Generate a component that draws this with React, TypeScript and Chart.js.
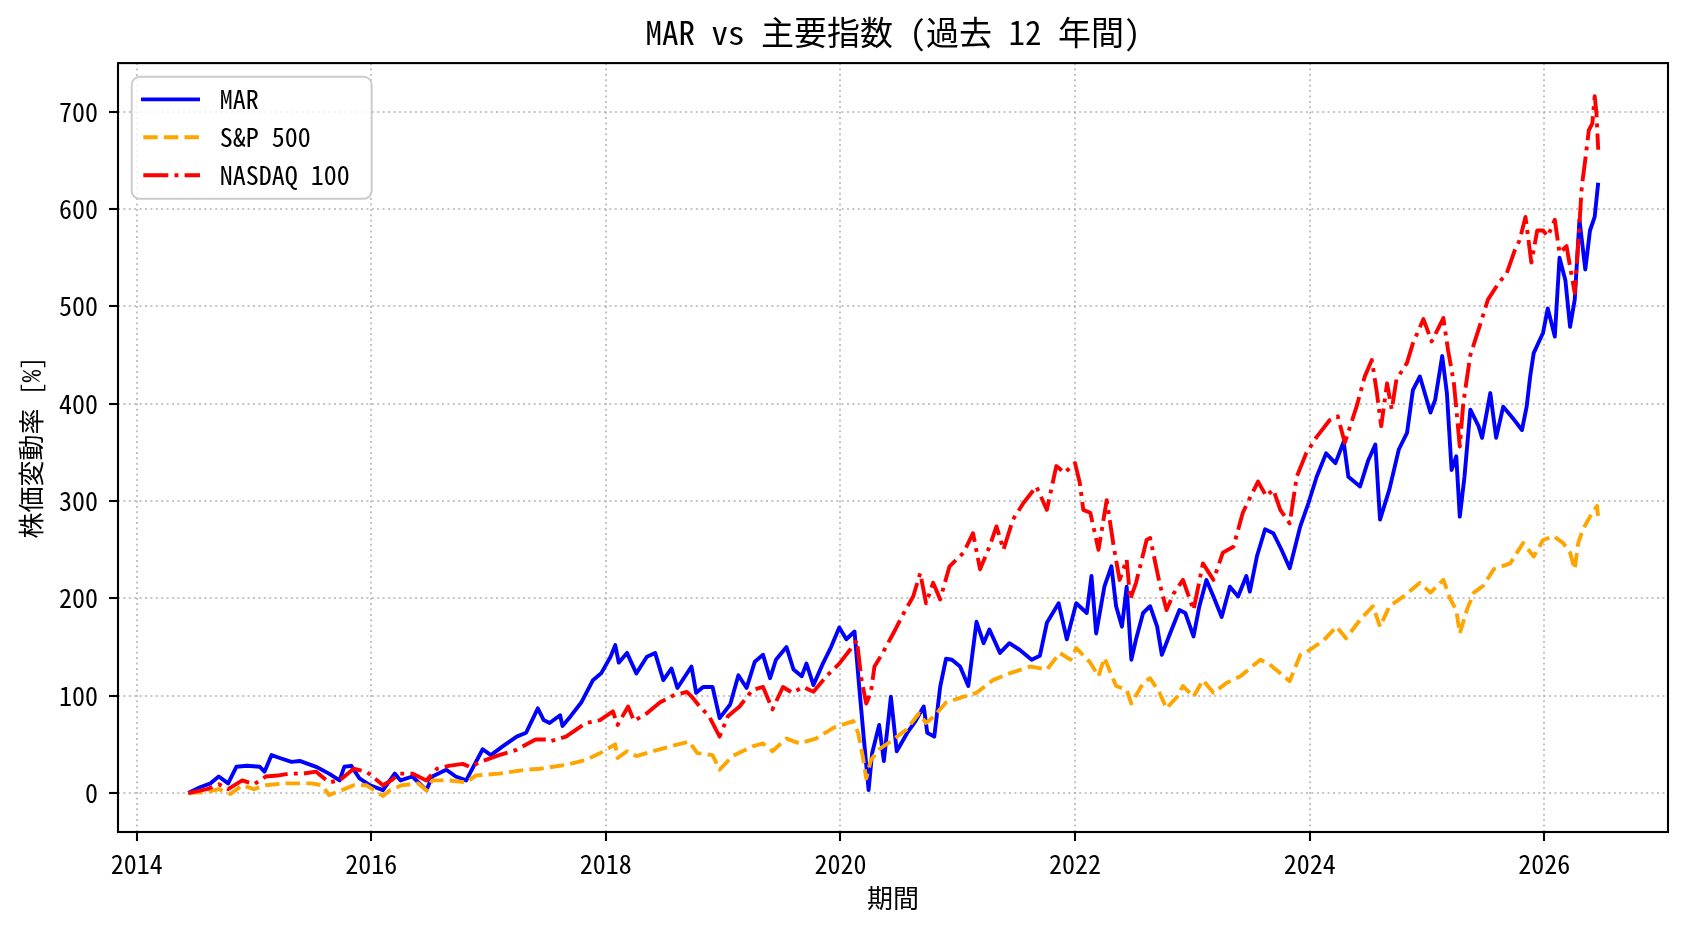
import React, { useEffect, useRef } from "react";
import { Chart, registerables } from "chart.js";

Chart.register(...registerables);

const FONT = "'Noto Sans Mono CJK JP', 'Noto Sans CJK JP', 'Noto Sans', sans-serif";

const TITLE = "MAR vs 主要指数 (過去 12 年間)";
const X_LABEL = "期間";
const Y_LABEL = "株価変動率 [%]";

const X_TICKS = [2014, 2016, 2018, 2020, 2022, 2024, 2026];
const Y_TICKS = [0, 100, 200, 300, 400, 500, 600, 700];

const SERIES_LABELS = ["MAR", "S&P 500", "NASDAQ 100"];

// MAR (decimal years / % change)
const marDates = [
  2014.44, 2014.54, 2014.63, 2014.7, 2014.78, 2014.85, 2014.94, 2015.05, 2015.09, 2015.15,
  2015.22, 2015.32, 2015.39, 2015.53, 2015.64, 2015.73, 2015.77, 2015.83, 2015.9, 2015.99,
  2016.1, 2016.2, 2016.25, 2016.35, 2016.47, 2016.52, 2016.64, 2016.72, 2016.81, 2016.87,
  2016.95, 2017.02, 2017.12, 2017.24, 2017.32, 2017.42, 2017.47, 2017.52, 2017.61, 2017.63,
  2017.7, 2017.79, 2017.89, 2017.96, 2018.04, 2018.08, 2018.11, 2018.18, 2018.26, 2018.35,
  2018.42, 2018.49, 2018.56, 2018.61, 2018.73, 2018.77, 2018.83, 2018.91, 2018.97, 2019.06,
  2019.13, 2019.2, 2019.27, 2019.34, 2019.4, 2019.45, 2019.54, 2019.6, 2019.67, 2019.71,
  2019.77, 2019.85, 2019.92, 2019.99, 2020.05, 2020.12, 2020.16, 2020.2, 2020.24, 2020.27,
  2020.33, 2020.37, 2020.43, 2020.48, 2020.57, 2020.64, 2020.71, 2020.74, 2020.8, 2020.85,
  2020.9, 2020.95, 2021.02, 2021.09, 2021.16, 2021.22, 2021.27, 2021.36, 2021.44, 2021.53,
  2021.63, 2021.7, 2021.76, 2021.86, 2021.93, 2022.01, 2022.1, 2022.14, 2022.18, 2022.25,
  2022.31, 2022.35, 2022.4, 2022.44, 2022.48, 2022.52, 2022.58, 2022.64, 2022.7, 2022.74,
  2022.81, 2022.89, 2022.94, 2023.01, 2023.06, 2023.12, 2023.18, 2023.25, 2023.32, 2023.39,
  2023.46, 2023.49, 2023.55, 2023.62, 2023.69, 2023.76, 2023.83, 2023.92, 2023.99, 2024.06,
  2024.14, 2024.22, 2024.29, 2024.33, 2024.43, 2024.5, 2024.56, 2024.6, 2024.68, 2024.76,
  2024.83, 2024.88, 2024.94, 2025.03, 2025.07, 2025.13, 2025.17, 2025.21, 2025.25, 2025.28,
  2025.32, 2025.37, 2025.44, 2025.47, 2025.54, 2025.59, 2025.65, 2025.74, 2025.81, 2025.85,
  2025.88, 2025.91, 2025.99, 2026.03, 2026.09, 2026.13, 2026.18, 2026.22, 2026.26, 2026.3,
  2026.35, 2026.39, 2026.43, 2026.46,
];
const marValues = [
  0, 6, 10, 17, 10, 27, 28, 27, 22, 39,
  36, 32, 33, 27, 20, 13, 27, 28, 15, 8,
  3, 20, 13, 17, 3, 17, 24, 17, 13, 27,
  45, 39, 48, 58, 62, 87, 75, 72, 80, 69,
  79, 93, 116, 123, 140, 152, 134, 144, 123, 140,
  144, 116, 128, 108, 130, 103, 109, 109, 77, 91,
  121, 108, 135, 142, 118, 137, 150, 127, 120, 133,
  111, 133, 150, 170, 158, 166, 109, 55, 3, 41,
  70, 33, 99, 43, 62, 74, 89, 62, 58, 109,
  138, 137, 130, 110, 176, 154, 168, 144, 154, 147,
  137, 141, 175, 195, 158, 195, 185, 223, 164, 212,
  233, 192, 171, 212, 137, 158, 185, 192, 171, 142,
  164, 188, 185, 161, 192, 219, 202, 181, 212, 202,
  223, 207, 243, 271, 267, 250, 231, 274, 298, 325,
  349, 339, 361, 325, 315, 342, 358, 281, 312, 353,
  370, 414, 428, 391, 404, 449, 411, 332, 346, 284,
  325, 394, 377, 365, 411, 365, 397, 384, 373, 397,
  428, 452, 473, 498, 469, 550, 527, 479, 507, 589,
  538, 578, 592, 627,
];

// S&P 500
const spDates = [
  2014.44, 2014.6, 2014.7, 2014.8, 2014.9, 2015.0, 2015.1, 2015.26, 2015.49, 2015.58,
  2015.64, 2015.75, 2015.85, 2015.96, 2016.1, 2016.16, 2016.26, 2016.4, 2016.47, 2016.52,
  2016.66, 2016.81, 2016.89, 2017.09, 2017.32, 2017.44, 2017.66, 2017.83, 2017.95, 2018.08,
  2018.1, 2018.18, 2018.26, 2018.4, 2018.55, 2018.71, 2018.78, 2018.91, 2018.97, 2019.08,
  2019.25, 2019.34, 2019.42, 2019.54, 2019.65, 2019.79, 2019.94, 2020.11, 2020.15, 2020.19,
  2020.22, 2020.26, 2020.33, 2020.45, 2020.56, 2020.67, 2020.73, 2020.8, 2020.9, 2021.05,
  2021.16, 2021.3, 2021.44, 2021.62, 2021.76, 2021.87, 2021.96, 2022.01, 2022.13, 2022.2,
  2022.25, 2022.35, 2022.44, 2022.48, 2022.58, 2022.64, 2022.72, 2022.78, 2022.87, 2022.92,
  2023.01, 2023.09, 2023.18, 2023.29, 2023.41, 2023.49, 2023.58, 2023.66, 2023.75, 2023.83,
  2023.92, 2024.0, 2024.12, 2024.23, 2024.31, 2024.43, 2024.54, 2024.6, 2024.68, 2024.8,
  2024.94, 2025.03, 2025.14, 2025.2, 2025.25, 2025.28, 2025.34, 2025.4, 2025.48, 2025.57,
  2025.71, 2025.82, 2025.91, 2025.99, 2026.08, 2026.16, 2026.22, 2026.26, 2026.29, 2026.33,
  2026.39, 2026.45, 2026.46,
];
const spValues = [
  0, 1, 4, -1, 8, 4, 8, 10, 10, 8,
  -2, 3, 8, 8, -3, 3, 8, 10, 3, 13,
  13, 11, 18, 20, 24, 25, 29, 34, 41, 50,
  36, 43, 38, 43, 48, 53, 41, 39, 24, 38,
  48, 51, 43, 56, 51, 56, 67, 74, 62, 38,
  15, 34, 45, 55, 65, 82, 72, 79, 93, 99,
  103, 116, 123, 130, 127, 144, 137, 149, 134, 120,
  139, 110, 106, 92, 113, 118, 103, 87, 99, 110,
  99, 116, 103, 113, 120, 128, 137, 132, 123, 115,
  142, 147, 157, 171, 159, 178, 192, 171, 192, 202,
  216, 206, 219, 199, 188, 164, 188, 206, 213, 230,
  236, 257, 243, 260, 264, 257, 247, 230, 257, 271,
  284, 295, 283,
];

// NASDAQ 100
const ndxDates = [
  2014.44, 2014.6, 2014.7, 2014.78, 2014.9, 2015.0, 2015.1, 2015.2, 2015.3, 2015.42,
  2015.53, 2015.64, 2015.73, 2015.85, 2015.96, 2016.1, 2016.17, 2016.24, 2016.35, 2016.47,
  2016.56, 2016.66, 2016.78, 2016.84, 2016.95, 2017.09, 2017.23, 2017.4, 2017.49, 2017.52,
  2017.66, 2017.83, 2017.95, 2018.06, 2018.1, 2018.19, 2018.24, 2018.35, 2018.46, 2018.57,
  2018.69, 2018.74, 2018.8, 2018.88, 2018.97, 2019.04, 2019.14, 2019.25, 2019.34, 2019.42,
  2019.51, 2019.59, 2019.68, 2019.77, 2019.88, 2019.99, 2020.08, 2020.14, 2020.18, 2020.22,
  2020.26, 2020.29, 2020.36, 2020.45, 2020.54, 2020.62, 2020.68, 2020.73, 2020.79, 2020.85,
  2020.93, 2021.05, 2021.13, 2021.19, 2021.27, 2021.33, 2021.39, 2021.47, 2021.56, 2021.67,
  2021.76, 2021.84, 2021.91, 2022.0, 2022.04, 2022.07, 2022.13, 2022.2, 2022.27, 2022.33,
  2022.38, 2022.44, 2022.47, 2022.52, 2022.61, 2022.64, 2022.72, 2022.78, 2022.84, 2022.92,
  2023.01, 2023.09, 2023.18, 2023.26, 2023.35, 2023.43, 2023.49, 2023.56, 2023.63, 2023.69,
  2023.75, 2023.83, 2023.89, 2023.97, 2024.06, 2024.17, 2024.24, 2024.3, 2024.4, 2024.47,
  2024.53, 2024.57, 2024.61, 2024.66, 2024.7, 2024.74, 2024.83, 2024.88, 2024.97, 2025.04,
  2025.14, 2025.18, 2025.23, 2025.28, 2025.31, 2025.37, 2025.45, 2025.52, 2025.61, 2025.68,
  2025.75, 2025.79, 2025.84, 2025.89, 2025.94, 2025.99, 2026.03, 2026.09, 2026.13, 2026.19,
  2026.23, 2026.26, 2026.29, 2026.32, 2026.35, 2026.38, 2026.41, 2026.43, 2026.445, 2026.46,
];
const ndxValues = [
  0, 4, 9, 4, 13, 9, 17, 18, 20, 20,
  22, 11, 13, 25, 22, 8, 13, 20, 20, 13,
  25, 28, 30, 27, 33, 39, 44, 55, 55, 53,
  58, 72, 75, 84, 70, 89, 74, 82, 93, 100,
  104, 98, 89, 79, 58, 79, 89, 106, 109, 86,
  109, 103, 109, 104, 120, 133, 147, 157, 116, 92,
  104, 130, 144, 164, 185, 202, 226, 195, 216, 199,
  233, 247, 267, 230, 253, 274, 250, 281, 298, 315,
  291, 336, 329, 339, 319, 291, 288, 250, 301, 253,
  219, 240, 199, 216, 260, 262, 216, 188, 205, 219,
  188, 236, 219, 247, 253, 288, 303, 320, 305, 312,
  291, 277, 325, 349, 366, 383, 387, 360, 397, 428,
  445, 414, 377, 421, 394, 425, 442, 462, 487, 464,
  488, 455, 421, 356, 401, 450, 480, 507, 524, 534,
  558, 568, 592, 545, 578, 578, 572, 589, 555, 562,
  534, 514, 565, 623, 651, 681, 688, 716, 699, 661,
];

const X_MIN = 2013.841;
const X_MAX = 2027.055;
const Y_MIN = -40;
const Y_MAX = 750;

const toPoints = (xs: number[], ys: number[]) => xs.map((x, i) => ({ x, y: ys[i] }));

const framePlugin = {
  id: "mplFrameLegend",
  afterDraw(chart: any) {
    const { ctx, chartArea } = chart;
    const { left, top, right, bottom } = chartArea;
    ctx.save();
    ctx.setLineDash([]);
    ctx.strokeStyle = "#000";
    ctx.lineWidth = 2.1;
    ctx.strokeRect(left, top, right - left, bottom - top);

    // legend (upper left, inside axes)
    const bx = left + 13.7;
    const by = top + 13.7;
    const bw = 240;
    const bh = 122;
    ctx.beginPath();
    if ((ctx as any).roundRect) (ctx as any).roundRect(bx, by, bw, bh, 8);
    else ctx.rect(bx, by, bw, bh);
    ctx.fillStyle = "rgba(255,255,255,0.8)";
    ctx.fill();
    ctx.strokeStyle = "#cccccc";
    ctx.lineWidth = 2;
    ctx.stroke();

    chart.data.datasets.forEach((ds: any, i: number) => {
      const y = by + 22.6 + i * 37.9;
      ctx.beginPath();
      ctx.setLineDash(ds.borderDash || []);
      ctx.lineDashOffset = 0;
      ctx.strokeStyle = ds.borderColor;
      ctx.lineWidth = 3.9;
      ctx.lineCap = "butt";
      const x0 = ds.borderDash && ds.borderDash.length ? bx + 11.6 : bx + 9.3;
      ctx.moveTo(x0, y);
      ctx.lineTo(bx + 68.3, y);
      ctx.stroke();
      ctx.setLineDash([]);
      ctx.fillStyle = "#000";
      ctx.font = `26px ${FONT}`;
      ctx.textBaseline = "middle";
      ctx.textAlign = "left";
      ctx.fillText(ds.label, bx + 88, y);
    });
    ctx.restore();
  },
};

export default function App() {
  const canvasRef = useRef<HTMLCanvasElement | null>(null);

  useEffect(() => {
    const canvas = canvasRef.current;
    if (!canvas) return;
    const gridCommon = {
      color: "rgba(176,176,176,0.75)",
      lineWidth: 2,
      drawTicks: true,
      tickLength: 9,
      tickWidth: 2.1,
      tickColor: "#000",
      tickBorderDash: [],
    };
    const chart = new Chart(canvas, {
      type: "line",
      data: {
        datasets: [
          {
            label: SERIES_LABELS[0],
            data: toPoints(marDates, marValues),
            borderColor: "#0000ff",
            backgroundColor: "#0000ff",
            borderWidth: 3.9,
            borderDash: [],
            pointRadius: 0,
            tension: 0,
            borderJoinStyle: "round",
            borderCapStyle: "butt",
            order: 2,
          },
          {
            label: SERIES_LABELS[1],
            data: toPoints(spDates, spValues),
            borderColor: "#ffa500",
            backgroundColor: "#ffa500",
            borderWidth: 3.9,
            borderDash: [14.4, 6.2],
            pointRadius: 0,
            tension: 0,
            borderJoinStyle: "round",
            borderCapStyle: "butt",
            order: 1,
          },
          {
            label: SERIES_LABELS[2],
            data: toPoints(ndxDates, ndxValues),
            borderColor: "#ff0000",
            backgroundColor: "#ff0000",
            borderWidth: 3.9,
            borderDash: [25, 6.2, 3.9, 6.2],
            pointRadius: 0,
            tension: 0,
            borderJoinStyle: "round",
            borderCapStyle: "butt",
            order: 0,
          },
        ],
      },
      options: {
        animation: false,
        responsive: false,
        devicePixelRatio: 1,
        events: [],
        layout: { padding: { left: 0, right: 20, top: 0, bottom: 0 } },
        plugins: {
          legend: { display: false },
          tooltip: { enabled: false },
          title: {
            display: true,
            fullSize: false,
            text: TITLE,
            color: "#000",
            font: { family: FONT, size: 33, weight: "normal" },
            padding: { top: 12.5, bottom: 11 },
          },
        },
        scales: {
          x: {
            type: "linear",
            min: X_MIN,
            max: X_MAX,
            afterBuildTicks: (axis: any) => {
              axis.ticks = X_TICKS.map((v) => ({ value: v }));
            },
            afterFit: (axis: any) => {
              axis.height = 100;
            },
            ticks: {
              color: "#000",
              padding: 8,
              maxRotation: 0,
              autoSkip: false,
              font: { family: FONT, size: 26 },
              callback: (v: any) => String(v),
            },
            grid: { ...gridCommon },
            border: { display: false, dash: [2, 3.4] },
            title: {
              display: true,
              text: X_LABEL,
              color: "#000",
              font: { family: FONT, size: 26 },
              padding: { top: 0, bottom: 18 },
            },
          },
          y: {
            type: "linear",
            min: Y_MIN,
            max: Y_MAX,
            afterBuildTicks: (axis: any) => {
              axis.ticks = Y_TICKS.map((v) => ({ value: v }));
            },
            afterFit: (axis: any) => {
              axis.width = 118;
            },
            ticks: {
              color: "#000",
              padding: 11,
              autoSkip: false,
              font: { family: FONT, size: 26 },
              callback: (v: any) => String(v),
            },
            grid: { ...gridCommon },
            border: { display: false, dash: [2, 3.4] },
            title: {
              display: true,
              text: Y_LABEL,
              color: "#000",
              font: { family: FONT, size: 26 },
              padding: { top: 16, bottom: 0 },
            },
          },
        },
      } as any,
      plugins: [framePlugin],
    });
    return () => chart.destroy();
  }, []);

  return (
    <div style={{ position: "fixed", left: 0, top: 0, width: 1688, height: 932, background: "#fff" }}>
      <canvas ref={canvasRef} width={1688} height={932} style={{ display: "block", width: 1688, height: 932 }} />
    </div>
  );
}
